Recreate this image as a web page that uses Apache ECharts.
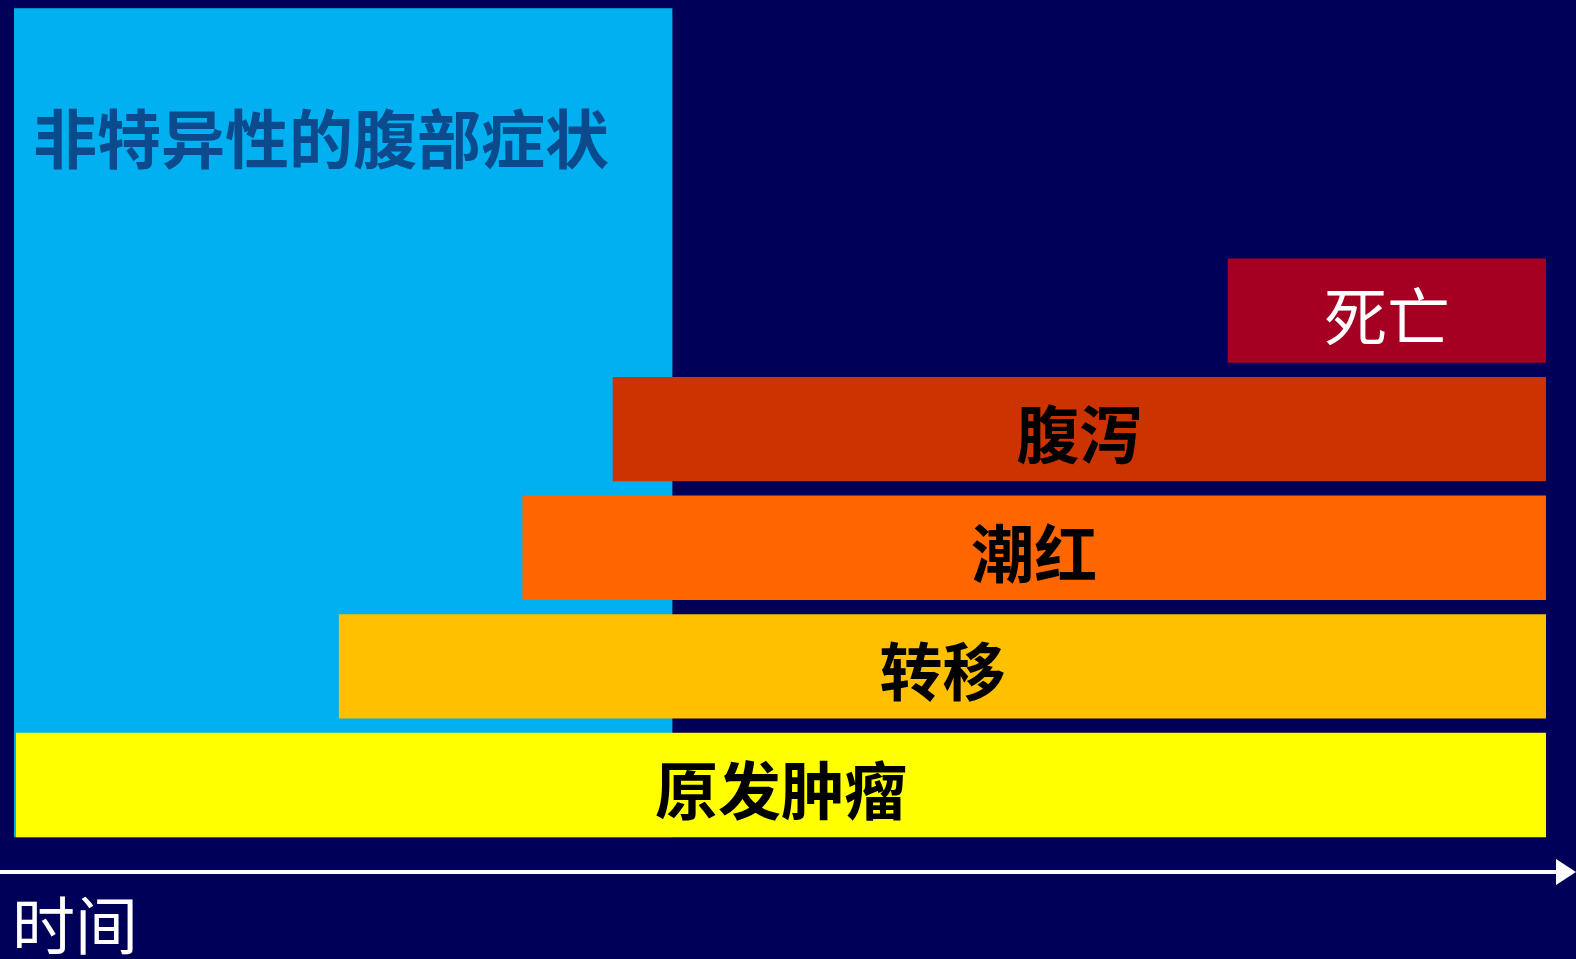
<!DOCTYPE html>
<html>
<head>
<meta charset="utf-8">
<script src="https://cdn.jsdelivr.net/npm/echarts@6/dist/echarts.min.js"></script>
<style>
html,body{margin:0;padding:0;background:#000058;}
#chart{width:1576px;height:959px;}
</style>
</head>
<body>
<div id="chart"></div>
<script>
// ---- data ----
const categories = ['原发肿瘤', '转移', '潮红', '腹泻', '死亡'];
const startTimes = [0, 21.1, 33.1, 39.0, 79.2];
const endTimes = [100, 100, 100, 100, 100];
const symptomLabel = '非特异性的腹部症状';
const symptomStart = -0.13;
const symptomEnd = 42.9;
const symptomTop = 6.55;
const axisName = '时间';

// ---- styles ----
const barColors = ['#FFFF00', '#FFC000', '#FF6600', '#CC3300', '#A50021'];
const labelColors = ['#000000', '#000000', '#000000', '#000000', '#FFFFFF'];
const labelWeights = ['bold', 'bold', 'bold', 'bold', 'normal'];
const halfBar = 0.44;

const barData = categories.map((c, i) => ({
  name: c,
  value: [startTimes[i], endTimes[i], i - halfBar, i + halfBar],
  itemStyle: { color: barColors[i] },
  labelColor: labelColors[i],
  labelWeight: labelWeights[i]
}));

function renderBar(params, api) {
  const p0 = api.coord([api.value(0), api.value(3)]);
  const p1 = api.coord([api.value(1), api.value(2)]);
  const item = barData[params.dataIndex];
  return {
    type: 'rect',
    shape: { x: p0[0], y: p0[1], width: p1[0] - p0[0], height: p1[1] - p0[1] },
    style: { fill: item.itemStyle.color },
    textContent: {
      style: {
        text: item.name,
        fill: item.labelColor,
        font: item.labelWeight + ' 63px "Noto Sans CJK SC"',
        align: 'center',
        verticalAlign: 'middle'
      }
    },
    textConfig: { position: 'inside', offset: [0, 5] }
  };
}

function renderBlock(params, api) {
  const p0 = api.coord([api.value(0), api.value(3)]);
  const p1 = api.coord([api.value(1), api.value(2)]);
  return {
    type: 'rect',
    shape: { x: p0[0], y: p0[1], width: p1[0] - p0[0], height: p1[1] - p0[1] },
    style: { fill: '#00B0F0' },
    textContent: {
      style: {
        text: symptomLabel,
        fill: '#0B4A8C',
        font: 'bold 64px "Noto Sans CJK SC"',
        align: 'left',
        verticalAlign: 'middle'
      }
    },
    textConfig: { position: [19, 131] }
  };
}

const chart = echarts.init(document.getElementById('chart'));
chart.setOption({
  backgroundColor: '#000058',
  animation: false,
  title: {
    text: axisName,
    left: 7,
    top: 889,
    textStyle: { color: '#FFFFFF', fontSize: 63, fontWeight: 'normal', fontFamily: 'Noto Sans CJK SC' }
  },
  grid: [
    { left: 16, right: 30, top: 2.2, bottom: 114.7 },
    { left: 0, right: 10, top: 871, height: 1 }
  ],
  xAxis: [
    { type: 'value', gridIndex: 0, min: 0, max: 100, show: false },
    {
      type: 'value', gridIndex: 1, min: 0, max: 100,
      axisLine: { show: true, lineStyle: { color: '#FFFFFF', width: 4 }, symbol: ['none', 'triangle'], symbolSize: [26, 20] },
      axisTick: { show: false }, axisLabel: { show: false }, splitLine: { show: false }
    }
  ],
  yAxis: [
    { type: 'value', gridIndex: 0, min: -0.5, max: 6.6, show: false },
    { type: 'value', gridIndex: 1, show: false }
  ],
  series: [
    {
      type: 'custom', xAxisIndex: 0, yAxisIndex: 0, clip: false,
      renderItem: renderBlock,
      data: [[symptomStart, symptomEnd, -halfBar, symptomTop]],
      z: 1
    },
    {
      type: 'custom', xAxisIndex: 0, yAxisIndex: 0, clip: false,
      renderItem: renderBar,
      data: barData,
      z: 2
    }
  ]
});
</script>
</body>
</html>
